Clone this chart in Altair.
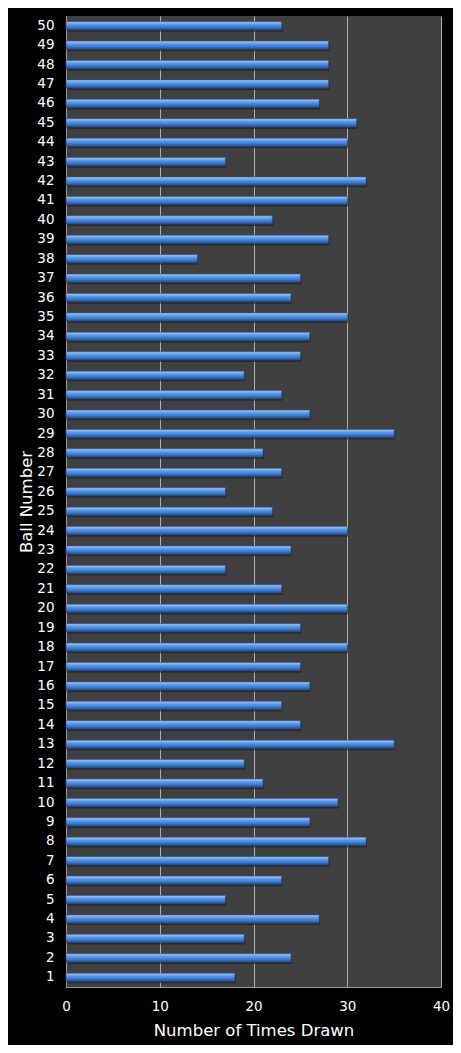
import altair as alt
import pandas as pd

balls = list(range(1, 51))
times_drawn = [18, 24, 19, 27, 17, 23, 28, 32, 26, 29,
               21, 19, 35, 25, 23, 26, 25, 30, 25, 30,
               23, 17, 24, 30, 22, 17, 23, 21, 35, 26,
               23, 19, 25, 26, 30, 24, 25, 14, 28, 22,
               30, 32, 17, 30, 31, 27, 28, 28, 28, 23]
x_ticks = [0, 10, 20, 30, 40]

df = pd.DataFrame({"Ball": balls, "Times": times_drawn})

bar_fill = alt.Gradient(
    gradient="linear", x1=0, x2=0, y1=0, y2=1,
    stops=[alt.GradientStop(color="#a9cdf7", offset=0),
           alt.GradientStop(color="#5b9ae6", offset=0.35),
           alt.GradientStop(color="#3a78cc", offset=0.7),
           alt.GradientStop(color="#1d4a8e", offset=1)])

y_enc = alt.Y("Ball:O", sort="descending", title="Ball Number",
              scale=alt.Scale(paddingInner=0.58, paddingOuter=0.29),
              axis=alt.Axis(labelColor="white", labelFontSize=13.5, labelPadding=12,
                            ticks=False, domainColor="#9a9a9a", titleColor="white",
                            titleFontSize=16.5, titleFontWeight="normal", titlePadding=2))
x_enc = alt.X("Times:Q", title="Number of Times Drawn",
              scale=alt.Scale(domain=[0, 40], nice=False),
              axis=alt.Axis(values=x_ticks, labelColor="white", labelFontSize=13.5,
                            labelPadding=12, labelFlush=False, ticks=False,
                            domainColor="#9a9a9a", gridColor="#b0b0b0", gridWidth=1,
                            titleColor="white", titleFontSize=16.5,
                            titleFontWeight="normal", titlePadding=10))

shadow = alt.Chart(df).mark_bar(color="#1a1a1a", opacity=0.6, yOffset=2, xOffset=1).encode(
    x=x_enc, y=y_enc)
bars = alt.Chart(df).mark_bar(color=bar_fill, stroke="#2a5799", strokeWidth=0.6).encode(
    x=x_enc, y=y_enc, tooltip=["Ball:O", "Times:Q"])

chart = (shadow + bars).properties(
    width=375, height=971,
    autosize=alt.AutoSizeParams(type="none"),
    padding={"left": 58, "top": 8, "right": 12, "bottom": 58},
    background="black"
).configure_view(fill="#404040", stroke=None).configure_axis(
    labelFont="DejaVu Sans", titleFont="DejaVu Sans")

chart.save("out.html", embed_options={"renderer": "svg", "actions": False})
